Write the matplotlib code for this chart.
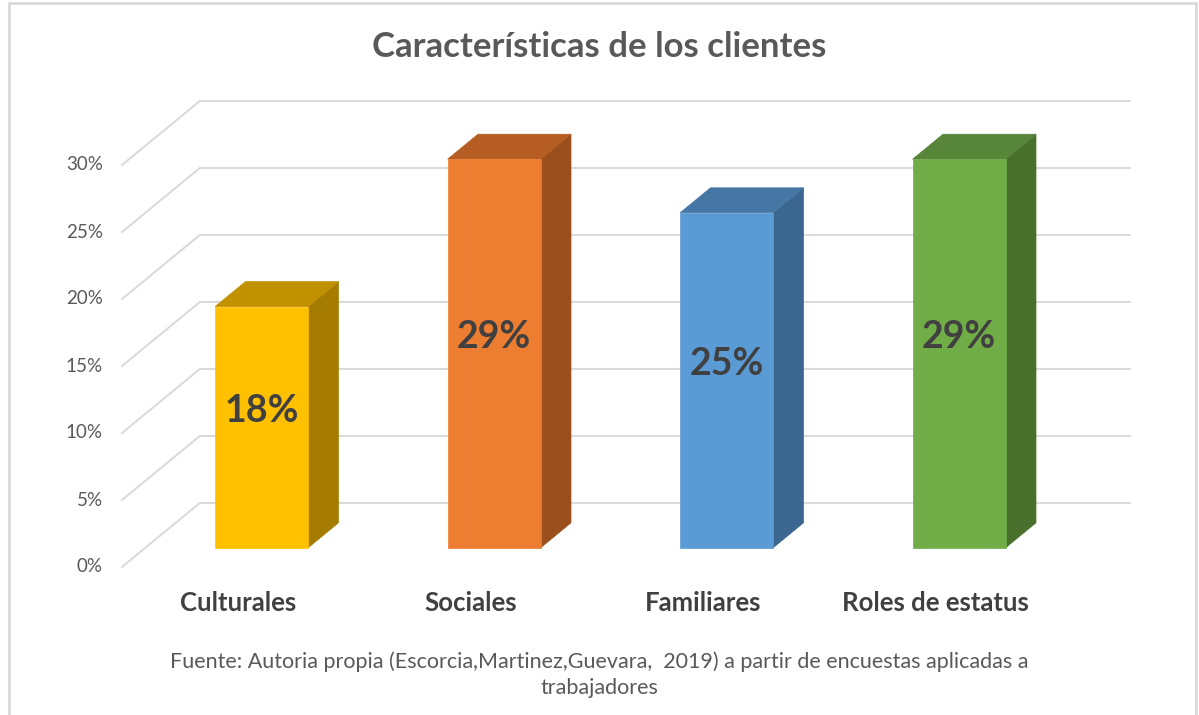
import matplotlib.pyplot as plt
from matplotlib.patches import Polygon, Rectangle

categories = ['Culturales', 'Sociales', 'Familiares', 'Roles de estatus']
values = [18, 29, 25, 29]
ticks = [0, 5, 10, 15, 20, 25, 30]
front_colors = ['#FFC000', '#ED7D31', '#5B9BD5', '#70AD47']
top_colors = ['#C29100', '#B55D22', '#4677A4', '#578539']
side_colors = ['#A67C00', '#9A4F1C', '#3A6690', '#4A702E']

title = 'Características de los clientes'
caption = ('Fuente: Autoria propia (Escorcia,Martinez,Guevara,  2019) a partir de encuestas aplicadas a\n'
           'trabajadores')

plt.rcParams['font.family'] = ['Lato', 'DejaVu Sans']

# oblique projection of the 3D box: depth 1 = back wall
DX, DY = 0.335, 4.78          # wall depth in (category, percent) units
bar_d0, bar_dd = 0.30, 0.39   # bar front depth and bar depth
bar_w = 0.40


def proj(x, y, d):
    return (x + d * DX, y + d * DY)


fig = plt.figure(figsize=(11.99, 7.15), dpi=100)
ax = fig.add_axes([0, 0, 1, 1])
ax.set_xlim(-0.5 - 122 / 232.5, -0.5 + (1199 - 122) / 232.5)
ax.set_ylim(-148 / 13.4, (715 - 148) / 13.4)
ax.axis('off')

# chart frame
fig.patches.append(Rectangle((9 / 1199, -0.01), 1187 / 1199, 1 - 3 / 715 + 0.01,
                             transform=fig.transFigure, fill=False,
                             edgecolor='#d9d9d9', linewidth=2))

x0, x1 = -0.5, len(categories) - 0.5
for t in ticks:
    fx, fy = proj(x0, t, 0)
    bx, by = proj(x0, t, 1)
    ex, ey = proj(x1, t, 1)
    ax.plot([fx, bx, ex], [fy, by, ey], color='#d9d9d9', linewidth=1.4,
            solid_joinstyle='miter', zorder=1)
    ax.text(fx - 0.083, fy, f'{t}%', ha='right', va='center',
            fontsize=13.5, color='#595959')

for i, (v, cat) in enumerate(zip(values, categories)):
    xl, xr = i - bar_w / 2, i + bar_w / 2
    d0, d1 = bar_d0, bar_d0 + bar_dd
    front = [proj(xl, 0, d0), proj(xr, 0, d0), proj(xr, v, d0), proj(xl, v, d0)]
    side = [proj(xr, 0, d0), proj(xr, 0, d1), proj(xr, v, d1), proj(xr, v, d0)]
    top = [proj(xl, v, d0), proj(xr, v, d0), proj(xr, v, d1), proj(xl, v, d1)]
    for pts, c in ((side, side_colors[i]), (top, top_colors[i]), (front, front_colors[i])):
        ax.add_patch(Polygon(pts, closed=True, facecolor=c, edgecolor=c,
                             linewidth=0.5, zorder=2))
    lx, ly = proj(i, v / 2 + 1.2, d0)
    ax.text(lx, ly, f'{v}%', ha='center', va='center', fontsize=27,
            fontweight='bold', color='#404040', zorder=3)
    ax.text(i, -2.7, cat, ha='center', va='center', fontsize=18.5,
            fontweight='bold', color='#404040')

fig.text(0.5, 1 - 47 / 715, title, ha='center', va='center', fontsize=25,
         fontweight='bold', color='#595959')
fig.text(0.5, 1 - 675 / 715, caption, ha='center', va='center', fontsize=15.5,
         color='#595959', linespacing=1.4)

fig.savefig('out.png', dpi=100)
